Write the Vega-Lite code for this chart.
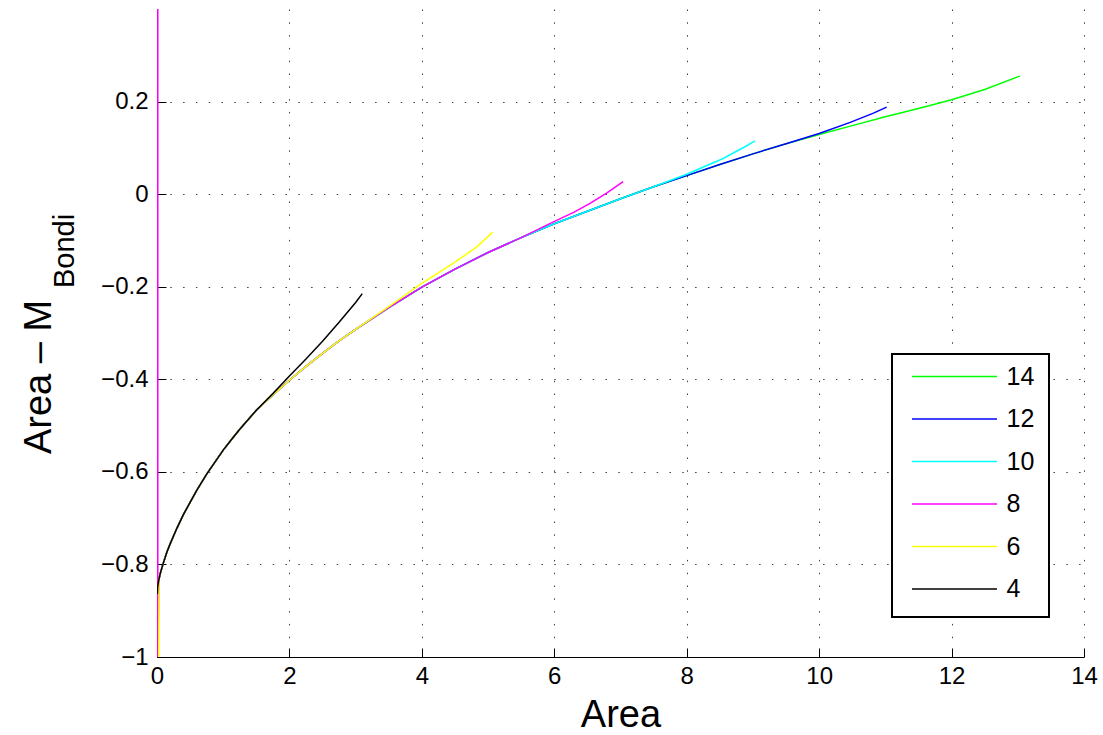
{
"$schema": "https://vega.github.io/schema/vega-lite/v6.json",
"width": 927, "height": 648,
"autosize": {"type": "none"},
"padding": {"left": 157, "top": 9, "right": 19, "bottom": 78},
"background": "white",
"config": {"view": {"stroke": null}, "legend": {"strokeWidth": 2}},
"datasets": {"curves": [
{"s":"14","x":0.005,"y":-0.864},{"s":"14","x":0.01,"y":-0.848},{"s":"14","x":0.03,"y":-0.832},{"s":"14","x":0.05,"y":-0.819},{"s":"14","x":0.1,"y":-0.795},{"s":"14","x":0.15,"y":-0.773},{"s":"14","x":0.2,"y":-0.755},{"s":"14","x":0.3,"y":-0.722},{"s":"14","x":0.4,"y":-0.692},{"s":"14","x":0.5,"y":-0.666},{"s":"14","x":0.6,"y":-0.640},{"s":"14","x":0.75,"y":-0.605},{"s":"14","x":0.875,"y":-0.579},{"s":"14","x":1.0,"y":-0.553},{"s":"14","x":1.125,"y":-0.530},{"s":"14","x":1.25,"y":-0.508},{"s":"14","x":1.5,"y":-0.467},{"s":"14","x":1.75,"y":-0.434},{"s":"14","x":2.0,"y":-0.402},{"s":"14","x":2.25,"y":-0.372},{"s":"14","x":2.5,"y":-0.344},{"s":"14","x":2.75,"y":-0.317},{"s":"14","x":3.0,"y":-0.292},{"s":"14","x":3.5,"y":-0.245},{"s":"14","x":4.0,"y":-0.201},{"s":"14","x":4.5,"y":-0.162},{"s":"14","x":5.0,"y":-0.126},{"s":"14","x":5.5,"y":-0.094},{"s":"14","x":6.0,"y":-0.064},{"s":"14","x":6.5,"y":-0.037},{"s":"14","x":7.0,"y":-0.010},{"s":"14","x":7.5,"y":0.016},{"s":"14","x":8.0,"y":0.040},{"s":"14","x":8.5,"y":0.064},{"s":"14","x":9.0,"y":0.087},{"s":"14","x":9.5,"y":0.109},{"s":"14","x":10.0,"y":0.129},{"s":"14","x":10.5,"y":0.148},{"s":"14","x":11.0,"y":0.167},{"s":"14","x":11.5,"y":0.185},{"s":"14","x":12.0,"y":0.204},{"s":"14","x":12.5,"y":0.226},{"s":"14","x":13.03,"y":0.255},
{"s":"12","x":0.005,"y":-0.864},{"s":"12","x":0.01,"y":-0.848},{"s":"12","x":0.03,"y":-0.832},{"s":"12","x":0.05,"y":-0.819},{"s":"12","x":0.1,"y":-0.795},{"s":"12","x":0.15,"y":-0.773},{"s":"12","x":0.2,"y":-0.755},{"s":"12","x":0.3,"y":-0.722},{"s":"12","x":0.4,"y":-0.692},{"s":"12","x":0.5,"y":-0.666},{"s":"12","x":0.6,"y":-0.640},{"s":"12","x":0.75,"y":-0.605},{"s":"12","x":0.875,"y":-0.579},{"s":"12","x":1.0,"y":-0.553},{"s":"12","x":1.125,"y":-0.530},{"s":"12","x":1.25,"y":-0.508},{"s":"12","x":1.5,"y":-0.467},{"s":"12","x":1.75,"y":-0.434},{"s":"12","x":2.0,"y":-0.402},{"s":"12","x":2.25,"y":-0.372},{"s":"12","x":2.5,"y":-0.344},{"s":"12","x":2.75,"y":-0.317},{"s":"12","x":3.0,"y":-0.292},{"s":"12","x":3.5,"y":-0.245},{"s":"12","x":4.0,"y":-0.201},{"s":"12","x":4.5,"y":-0.162},{"s":"12","x":5.0,"y":-0.126},{"s":"12","x":5.5,"y":-0.094},{"s":"12","x":6.0,"y":-0.064},{"s":"12","x":6.5,"y":-0.037},{"s":"12","x":7.0,"y":-0.010},{"s":"12","x":7.5,"y":0.016},{"s":"12","x":8.0,"y":0.040},{"s":"12","x":8.5,"y":0.064},{"s":"12","x":9.0,"y":0.087},{"s":"12","x":9.5,"y":0.109},{"s":"12","x":10.0,"y":0.131},{"s":"12","x":10.47,"y":0.155},{"s":"12","x":10.82,"y":0.175},{"s":"12","x":11.02,"y":0.188},
{"s":"10","x":0.005,"y":-0.864},{"s":"10","x":0.01,"y":-0.848},{"s":"10","x":0.03,"y":-0.832},{"s":"10","x":0.05,"y":-0.819},{"s":"10","x":0.1,"y":-0.795},{"s":"10","x":0.15,"y":-0.773},{"s":"10","x":0.2,"y":-0.755},{"s":"10","x":0.3,"y":-0.722},{"s":"10","x":0.4,"y":-0.692},{"s":"10","x":0.5,"y":-0.666},{"s":"10","x":0.6,"y":-0.640},{"s":"10","x":0.75,"y":-0.605},{"s":"10","x":0.875,"y":-0.579},{"s":"10","x":1.0,"y":-0.553},{"s":"10","x":1.125,"y":-0.530},{"s":"10","x":1.25,"y":-0.508},{"s":"10","x":1.5,"y":-0.467},{"s":"10","x":1.75,"y":-0.434},{"s":"10","x":2.0,"y":-0.402},{"s":"10","x":2.25,"y":-0.372},{"s":"10","x":2.5,"y":-0.344},{"s":"10","x":2.75,"y":-0.317},{"s":"10","x":3.0,"y":-0.292},{"s":"10","x":3.5,"y":-0.245},{"s":"10","x":4.0,"y":-0.201},{"s":"10","x":4.5,"y":-0.162},{"s":"10","x":5.0,"y":-0.126},{"s":"10","x":5.5,"y":-0.094},{"s":"10","x":6.0,"y":-0.064},{"s":"10","x":6.5,"y":-0.037},{"s":"10","x":7.0,"y":-0.010},{"s":"10","x":7.5,"y":0.016},{"s":"10","x":8.0,"y":0.043},{"s":"10","x":8.55,"y":0.077},{"s":"10","x":8.9,"y":0.104},{"s":"10","x":9.03,"y":0.115},
{"s":"8","x":0.012,"y":0.4},{"s":"8","x":0.012,"y":-1.0},{"s":"8","x":0.005,"y":-0.864},{"s":"8","x":0.01,"y":-0.848},{"s":"8","x":0.03,"y":-0.832},{"s":"8","x":0.05,"y":-0.819},{"s":"8","x":0.1,"y":-0.795},{"s":"8","x":0.15,"y":-0.773},{"s":"8","x":0.2,"y":-0.755},{"s":"8","x":0.3,"y":-0.722},{"s":"8","x":0.4,"y":-0.692},{"s":"8","x":0.5,"y":-0.666},{"s":"8","x":0.6,"y":-0.640},{"s":"8","x":0.75,"y":-0.605},{"s":"8","x":0.875,"y":-0.579},{"s":"8","x":1.0,"y":-0.553},{"s":"8","x":1.125,"y":-0.530},{"s":"8","x":1.25,"y":-0.508},{"s":"8","x":1.5,"y":-0.467},{"s":"8","x":1.75,"y":-0.434},{"s":"8","x":2.0,"y":-0.402},{"s":"8","x":2.25,"y":-0.372},{"s":"8","x":2.5,"y":-0.344},{"s":"8","x":2.75,"y":-0.317},{"s":"8","x":3.0,"y":-0.292},{"s":"8","x":3.5,"y":-0.245},{"s":"8","x":4.0,"y":-0.201},{"s":"8","x":4.5,"y":-0.162},{"s":"8","x":5.0,"y":-0.126},{"s":"8","x":5.5,"y":-0.094},{"s":"8","x":5.94,"y":-0.063},{"s":"8","x":6.3,"y":-0.039},{"s":"8","x":6.54,"y":-0.020},{"s":"8","x":6.79,"y":0.002},{"s":"8","x":7.04,"y":0.027},
{"s":"6","x":0.028,"y":-1.0},{"s":"6","x":0.03,"y":-0.832},{"s":"6","x":0.05,"y":-0.819},{"s":"6","x":0.1,"y":-0.795},{"s":"6","x":0.15,"y":-0.773},{"s":"6","x":0.2,"y":-0.755},{"s":"6","x":0.3,"y":-0.722},{"s":"6","x":0.4,"y":-0.692},{"s":"6","x":0.5,"y":-0.666},{"s":"6","x":0.6,"y":-0.640},{"s":"6","x":0.75,"y":-0.605},{"s":"6","x":0.875,"y":-0.579},{"s":"6","x":1.0,"y":-0.553},{"s":"6","x":1.125,"y":-0.530},{"s":"6","x":1.25,"y":-0.508},{"s":"6","x":1.5,"y":-0.467},{"s":"6","x":1.75,"y":-0.434},{"s":"6","x":2.0,"y":-0.402},{"s":"6","x":2.25,"y":-0.372},{"s":"6","x":2.5,"y":-0.344},{"s":"6","x":2.75,"y":-0.317},{"s":"6","x":3.0,"y":-0.292},{"s":"6","x":3.5,"y":-0.243},{"s":"6","x":4.0,"y":-0.193},{"s":"6","x":4.5,"y":-0.147},{"s":"6","x":4.83,"y":-0.114},{"s":"6","x":5.07,"y":-0.082},
{"s":"4","x":0.005,"y":-0.864},{"s":"4","x":0.01,"y":-0.848},{"s":"4","x":0.03,"y":-0.832},{"s":"4","x":0.05,"y":-0.819},{"s":"4","x":0.1,"y":-0.795},{"s":"4","x":0.15,"y":-0.773},{"s":"4","x":0.2,"y":-0.755},{"s":"4","x":0.3,"y":-0.722},{"s":"4","x":0.4,"y":-0.692},{"s":"4","x":0.5,"y":-0.666},{"s":"4","x":0.6,"y":-0.640},{"s":"4","x":0.75,"y":-0.605},{"s":"4","x":0.875,"y":-0.579},{"s":"4","x":1.0,"y":-0.553},{"s":"4","x":1.125,"y":-0.530},{"s":"4","x":1.25,"y":-0.508},{"s":"4","x":1.5,"y":-0.467},{"s":"4","x":1.75,"y":-0.431},{"s":"4","x":2.0,"y":-0.393},{"s":"4","x":2.25,"y":-0.356},{"s":"4","x":2.5,"y":-0.318},{"s":"4","x":2.75,"y":-0.277},{"s":"4","x":3.0,"y":-0.234},{"s":"4","x":3.1,"y":-0.215}
]},
"data": {"name": "curves"},
"layer": [
{
"mark": {"type": "line", "strokeWidth": 1.5, "clip": true},
"encoding": {
"x": {"field": "x", "type": "quantitative",
"scale": {"domain": [0, 14], "nice": false, "zero": false},
"axis": {"values": [0,2,4,6,8,10,12,14], "format": "~g", "title": "Area",
"labelFont": "Liberation Sans", "labelFontSize": 24, "labelColor": "black", "labelPadding": 16,
"tickSize": -9, "tickColor": "black", "tickWidth": 1, "domainColor": "black", "domainWidth": 1,
"grid": true, "gridColor": "#000", "gridOpacity": 0.75, "gridDash": [1.5, 11.3], "gridWidth": 1,
"titleFont": "Liberation Sans", "titleFontSize": 38, "titleFontWeight": "normal", "titleColor": "black",
"titleBaseline": "alphabetic", "titleY": 69, "titleX": 463.5, "titleAlign": "center", "labelFlush": false}},
"y": {"field": "y", "type": "quantitative",
"scale": {"domain": [-1, 0.4], "nice": false, "zero": false},
"axis": {"values": [-1,-0.8,-0.6,-0.4,-0.2,0,0.2], "format": "~g", "title": "Area – M",
"labelFont": "Liberation Sans", "labelFontSize": 24, "labelColor": "black", "labelPadding": 18,
"tickSize": -9, "tickColor": "black", "tickWidth": 1, "domainColor": "black", "domainWidth": 1,
"grid": true, "gridColor": "#000", "gridOpacity": 0.75, "gridDash": [1.5, 11.3], "gridWidth": 1,
"titleFont": "Liberation Sans", "titleFontSize": 38, "titleFontWeight": "normal", "titleColor": "black",
"titleBaseline": "alphabetic", "titleAlign": "center", "titleAngle": -90, "titleX": -107, "titleY": 367.5, "labelFlush": false}},
"color": {"field": "s", "type": "nominal",
"scale": {"domain": ["14","12","10","8","6","4"], "range": ["#00ff00","#0000ff","#00ffff","#ff00ff","#ffff00","#000000"]},
"legend": {"orient": "none", "legendX": 735, "legendY": 345, "title": null,
"symbolType": "stroke", "symbolSize": 7225, "symbolStrokeWidth": 1.5, "symbolOffset": 4.5,
"labelFont": "Liberation Sans", "labelFontSize": 25, "labelColor": "black", "labelOffset": 8.5,
"strokeColor": "black", "fillColor": "white", "padding": 14.5, "rowPadding": 17.5, "clipHeight": 16}}
}
},
{
"mark": {"type": "line", "opacity": 0, "strokeOpacity": 0},
"encoding": {
"x": {"field": "x", "type": "quantitative"},
"y": {"field": "y", "type": "quantitative",
"axis": {"orient": "left", "title": "Bondi", "labels": false, "ticks": false, "domain": false, "grid": false,
"titleFont": "Liberation Sans", "titleFontSize": 29, "titleFontWeight": "normal", "titleColor": "black",
"titleBaseline": "alphabetic", "titleAlign": "center", "titleAngle": -90, "titleX": -84, "titleY": 241.5}},
"detail": {"field": "s", "type": "nominal"}
}
}
],
"resolve": {"axis": {"y": "independent"}}
}
